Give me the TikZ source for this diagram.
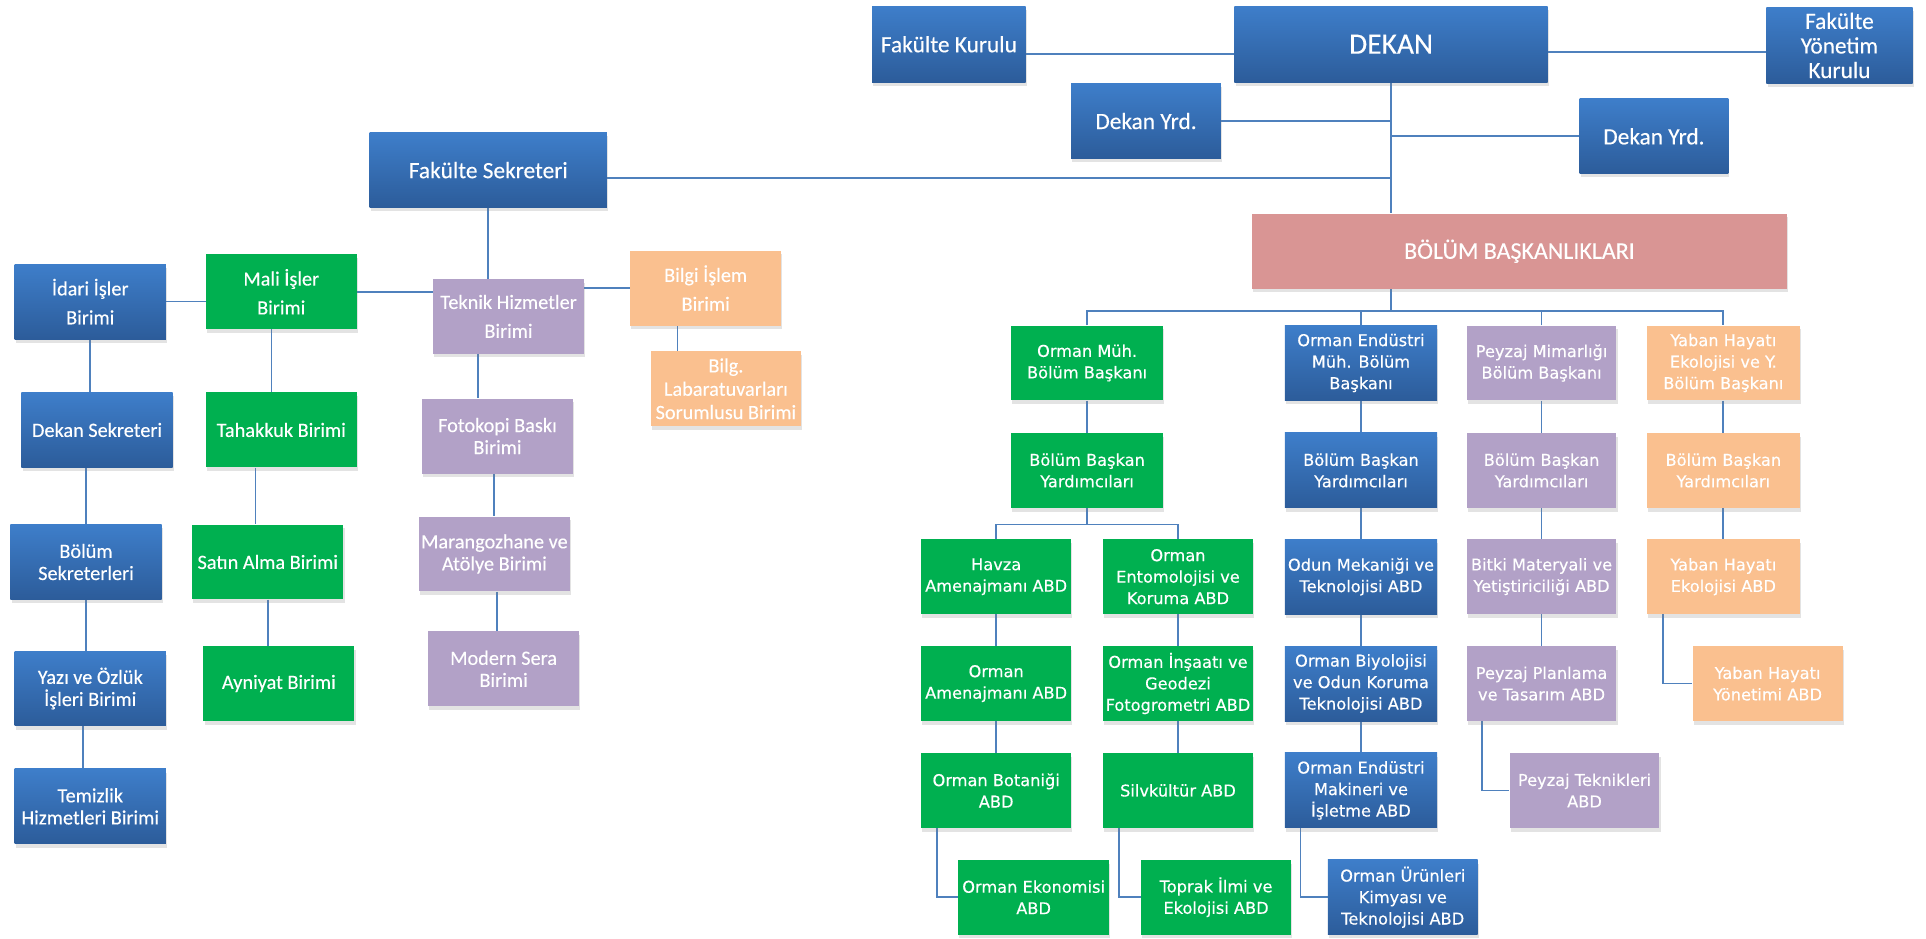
\documentclass[tikz,border=0pt]{standalone}
\usepackage{fontspec}
\setmainfont{Carlito}[FakeBold=0.25]
\newfontfamily\vfont{DejaVu Sans}[FakeBold=0.35]
\usetikzlibrary{shadows,backgrounds}
\definecolor{bluetop}{RGB}{62,126,202}
\definecolor{bluebot}{RGB}{44,92,154}
\definecolor{bgreen}{RGB}{0,176,80}
\definecolor{bpurple}{RGB}{178,161,199}
\definecolor{borange}{RGB}{250,192,143}
\definecolor{bpink}{RGB}{217,149,148}
\definecolor{conn}{RGB}{79,129,189}
\tikzset{
  unit/.style={inner sep=0pt, align=center, text=white,
    drop shadow={shadow xshift=1pt, shadow yshift=-3pt, opacity=0.22}},
  bluebox/.style={unit, top color=bluetop, bottom color=bluebot},
  greenbox/.style={unit, fill=bgreen},
  purplebox/.style={unit, fill=bpurple},
  orangebox/.style={unit, fill=borange},
  pinkbox/.style={unit, fill=bpink},
  sz/.style 2 args={minimum width=#1, minimum height=#2},
  lf/.style={sz={123}{61}, font=\fontsize{16.5}{18}\selectfont},
  lfw/.style={sz={123}{61}, font=\fontsize{16.5}{23.5}\selectfont},
  tf/.style={font=\fontsize{19}{20}\selectfont},
  rf/.style={sz={122}{61}, font=\vfont\fontsize{13.2}{17.5}\selectfont},
  conline/.style={draw=conn, line width=1.5pt},
}
\begin{document}
\begin{tikzpicture}[x=1pt,y=-1pt]
\useasboundingbox (0,0) rectangle (1568,764);

% ---------- top ----------
\node[bluebox, tf, sz={125}{62}] (fk) at (772.5,36) {Fakülte Kurulu};
\node[bluebox, sz={255}{62}, font=\fontsize{24}{26}\selectfont] (dekan) at (1132.5,36) {DEKAN};
\node[bluebox, tf, sz={119}{62}] (fyk) at (1497.5,37) {Fakülte\\Yönetim\\Kurulu};
\node[bluebox, tf, sz={122}{61}] (dy1) at (933,98.5) {Dekan Yrd.};
\node[bluebox, tf, sz={121}{61}] (dy2) at (1346.5,111) {Dekan Yrd.};
\node[bluebox, tf, sz={193}{61}] (fs) at (397.5,138.5) {Fakülte Sekreteri};
\node[pinkbox, sz={436}{61}, font=\fontsize{19.5}{21}\selectfont] (bb) at (1237,204.5) {BÖLÜM BAŞKANLIKLARI};

% ---------- left ----------
\node[bluebox, lfw] (idari) at (73.5,245.5) {İdari İşler\\Birimi};
\node[greenbox, lfw] (mali) at (229,237.5) {Mali İşler\\Birimi};
\node[purplebox, lfw] (tek) at (414,257.5) {Teknik Hizmetler\\Birimi};
\node[orangebox, lfw] (bilgi) at (574.5,234.5) {Bilgi İşlem\\Birimi};
\node[orangebox, sz={122}{61}, font=\fontsize{16.5}{19}\selectfont] (lab) at (591,316.5) {Bilg.\\Labaratuvarları\\Sorumlusu Birimi};
\node[bluebox, lf] (dsek) at (79,350) {Dekan Sekreteri};
\node[greenbox, lf] (tah) at (229,350) {Tahakkuk Birimi};
\node[purplebox, lf] (foto) at (405,355) {Fotokopi Baskı\\Birimi};
\node[bluebox, lf] (bsek) at (70,457.5) {Bölüm\\Sekreterleri};
\node[greenbox, lf] (satin) at (218,457.5) {Satın Alma Birimi};
\node[purplebox, lf] (mar) at (402.5,451) {Marangozhane ve\\Atölye Birimi};
\node[bluebox, lf] (yazi) at (73.5,560.5) {Yazı ve Özlük\\İşleri Birimi};
\node[greenbox, lf] (ayn) at (227,556.5) {Ayniyat Birimi};
\node[purplebox, lf] (mod) at (410,544.5) {Modern Sera\\Birimi};
\node[bluebox, lf] (tem) at (73.5,656.5) {Temizlik\\Hizmetleri Birimi};

% ---------- right: Orman Muh ----------
\node[greenbox, rf, sz={124}{61}] (om) at (885,295.5) {Orman Müh.\\Bölüm Başkanı};
\node[greenbox, rf, sz={124}{61}] (omy) at (885,383) {Bölüm Başkan\\Yardımcıları};
\node[greenbox, rf] (havza) at (811,469.5) {Havza\\Amenajmanı ABD};
\node[greenbox, rf] (ento) at (959,469.5) {Orman\\Entomolojisi ve\\Koruma ABD};
\node[greenbox, rf] (oam) at (811,556.5) {Orman\\Amenajmanı ABD};
\node[greenbox, rf] (oins) at (959,556.5) {Orman İnşaatı ve\\Geodezi\\Fotogrometri ABD};
\node[greenbox, rf] (obot) at (811,643.5) {Orman Botaniği\\ABD};
\node[greenbox, rf] (silv) at (959,643.5) {Silvkültür ABD};
\node[greenbox, rf, sz={123}{61}] (oeko) at (841.5,730.5) {Orman Ekonomisi\\ABD};
\node[greenbox, rf] (topr) at (990,730.5) {Toprak İlmi ve\\Ekolojisi ABD};

% ---------- right: Orman Endustri ----------
\node[bluebox, rf, sz={124}{61}] (oe) at (1108,295.5) {Orman Endüstri\\Müh. Bölüm\\Başkanı};
\node[bluebox, rf, sz={124}{61}] (oey) at (1108,383) {Bölüm Başkan\\Yardımcıları};
\node[bluebox, rf, sz={124}{61}] (odun) at (1108,469.5) {Odun Mekaniği ve\\Teknolojisi ABD};
\node[bluebox, rf, sz={124}{61}] (obiy) at (1108,556.5) {Orman Biyolojisi\\ve Odun Koruma\\Teknolojisi ABD};
\node[bluebox, rf, sz={124}{61}] (oemak) at (1108,643.5) {Orman Endüstri\\Makineri ve\\İşletme ABD};
\node[bluebox, rf] (okim) at (1142,730.5) {Orman Ürünleri\\Kimyası ve\\Teknolojisi ABD};

% ---------- right: Peyzaj ----------
\node[purplebox, rf] (pz) at (1255,295.5) {Peyzaj Mimarlığı\\Bölüm Başkanı};
\node[purplebox, rf] (pzy) at (1255,383) {Bölüm Başkan\\Yardımcıları};
\node[purplebox, rf] (bitki) at (1255,469.5) {Bitki Materyali ve\\Yetiştiriciliği ABD};
\node[purplebox, rf] (pplan) at (1255,556.5) {Peyzaj Planlama\\ve Tasarım ABD};
\node[purplebox, rf] (ptek) at (1290,643.5) {Peyzaj Teknikleri\\ABD};

% ---------- right: Yaban Hayati ----------
\node[orangebox, rf, sz={124}{61}] (yh) at (1403,295.5) {Yaban Hayatı\\Ekolojisi ve Y.\\Bölüm Başkanı};
\node[orangebox, rf, sz={124}{61}] (yhy) at (1403,383) {Bölüm Başkan\\Yardımcıları};
\node[orangebox, rf, sz={124}{61}] (yheko) at (1403,469.5) {Yaban Hayatı\\Ekolojisi ABD};
\node[orangebox, rf] (yhyon) at (1439,556.5) {Yaban Hayatı\\Yönetimi ABD};

% ---------- connectors ----------
\begin{scope}[on background layer]
\coordinate (y44) at (0,44);
\coordinate (y42) at (0,42);
\coordinate (y145) at (0,145);
\coordinate (y253) at (0,253);
\coordinate (y427) at (0,427);
\draw[conline] (fk.east |- y44) -- (dekan.west |- y44);
\draw[conline] (dekan.east |- y42) -- (fyk.west |- y42);
\draw[conline] (dekan.south) -- (dekan.south |- bb.north);
\draw[conline] (dy1.east) -- (dy1.east -| dekan.south);
\draw[conline] (dy2.west) -- (dy2.west -| dekan.south);
\coordinate (fsj) at (dekan.south |- y145);
\draw[conline] (fs.east |- fsj) -- (fsj);
\coordinate (bus) at (dekan.south |- y253);
\draw[conline] (bb.south -| bus) -- (bus);
\draw[conline] (om.north) -- (om.north |- bus) -- (yh.north |- bus) -- (yh.north);
\draw[conline] (oe.north) -- (oe.north |- bus);
\draw[conline] (pz.north) -- (pz.north |- bus);
% orman muh
\draw[conline] (om.south) -- (omy.north);
\coordinate (b2) at (omy.south |- y427);
\draw[conline] (omy.south) -- (b2);
\draw[conline] (havza.north) -- (havza.north |- b2) -- (ento.north |- b2) -- (ento.north);
\draw[conline] (havza.south) -- (oam.north);
\draw[conline] (oam.south) -- (obot.north);
\draw[conline] (ento.south) -- (oins.north);
\draw[conline] (oins.south) -- (silv.north);
\draw[conline] ([xshift=13]obot.south west) |- (oeko.west);
\draw[conline] ([xshift=13]silv.south west) |- (topr.west);
% orman endustri
\draw[conline] (oe.south) -- (oey.north);
\draw[conline] (oey.south) -- (odun.north);
\draw[conline] (odun.south) -- (obiy.north);
\draw[conline] (obiy.south) -- (oemak.north);
\draw[conline] ([xshift=13]oemak.south west) |- (okim.west);
% peyzaj
\draw[conline] (pz.south) -- (pzy.north);
\draw[conline] (pzy.south) -- (bitki.north);
\draw[conline] (bitki.south) -- (pplan.north);
\draw[conline] ([xshift=13]pplan.south west) |- (ptek.west);
% yaban
\draw[conline] (yh.south) -- (yhy.north);
\draw[conline] (yhy.south) -- (yheko.north);
\draw[conline] ([xshift=13]yheko.south west) |- (yhyon.west);
% left side
\draw[conline] (fs.south) -- (fs.south |- tek.north);
\draw[conline] (mali.east) -- (mali.east -| tek.west);
\draw[conline] (idari.east) -- (idari.east -| mali.west);
\draw[conline] (bilgi.west) -- (bilgi.west -| tek.east);
\draw[conline] (idari.south) -- (idari.south |- dsek.north);
\draw[conline] (bsek.north |- dsek.south) -- (bsek.north);
\draw[conline] (bsek.south) -- (bsek.south |- yazi.north);
\draw[conline] ([xshift=-6]yazi.south) -- ([xshift=-6]yazi.south |- tem.north);
\draw[conline] ([xshift=-8]mali.south) -- ([xshift=-8]mali.south |- tah.north);
\draw[conline] ([xshift=-10]satin.north |- tah.south) -- ([xshift=-10]satin.north);
\draw[conline] (satin.south) -- (satin.south |- ayn.north);
\draw[conline] ([xshift=-25]tek.south) -- ([xshift=-25]tek.south |- foto.north);
\draw[conline] (mar.north |- foto.south) -- (mar.north);
\draw[conline] ([xshift=2]mar.south) -- ([xshift=2]mar.south |- mod.north);
\draw[conline] ([xshift=-23]bilgi.south) -- ([xshift=-23]bilgi.south |- lab.north);
\end{scope}
\end{tikzpicture}
\end{document}
